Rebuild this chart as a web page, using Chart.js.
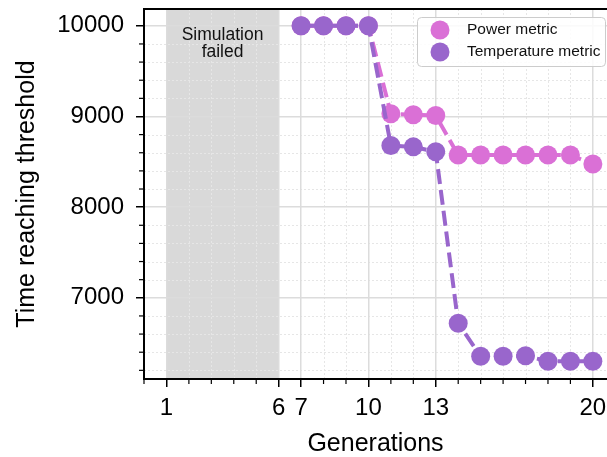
<!DOCTYPE html>
<html>
<head>
<meta charset="utf-8">
<script src="https://cdn.jsdelivr.net/npm/chart.js@4.4.1/dist/chart.umd.min.js"></script>
<style>
  html, body { margin: 0; padding: 0; background: #fff; }
  #wrap { width: 607px; height: 457px; }
</style>
</head>
<body>
<div id="wrap"><canvas id="genChart" width="607" height="457"></canvas></div>
<script>
// Datos
const generations = [7, 8, 9, 10, 11, 12, 13, 14, 15, 16, 17, 18, 19, 20];
const powerValues = [10000, 10000, 10000, 10000, 9030, 9020, 9010, 8575, 8575, 8575, 8575, 8575, 8575, 8475];
const tempValues = [10000, 10000, 10000, 10000, 8680, 8665, 8610, 6720, 6355, 6355, 6360, 6300, 6300, 6300];
const xTickValues = [1, 6, 7, 10, 13, 20];
const yTickValues = [7000, 8000, 9000, 10000];
const failedRange = [1, 6];
const seriesLabels = ['Power metric', 'Temperature metric'];

const FONT = '"Liberation Sans", Arial, sans-serif';
const powerColor = '#da70d6';
const tempColor = '#9966cc';

// Banda gris, rejilla menor y marcas menores
const backgroundPlugin = {
    id: 'background',
    beforeDraw(chart) {
        const {ctx, chartArea: a, scales: {x, y}} = chart;
        ctx.save();
        // banda "Simulation failed"
        const x1 = x.getPixelForValue(failedRange[0]);
        const x2 = x.getPixelForValue(failedRange[1]);
        ctx.fillStyle = '#d9d9d9';
        ctx.fillRect(x1, a.top, x2 - x1, a.bottom - a.top);

        // rejilla menor punteada
        ctx.strokeStyle = '#e6e6e6';
        ctx.lineWidth = 1;
        ctx.setLineDash([2, 2]);
        for (let v = 0; v <= 20; v++) {
            if (xTickValues.includes(v)) continue;
            const px = Math.round(x.getPixelForValue(v)) + 0.5;
            ctx.beginPath(); ctx.moveTo(px, a.top); ctx.lineTo(px, a.bottom); ctx.stroke();
        }
        for (let v = 6200; v <= 10000; v += 200) {
            if (yTickValues.includes(v)) continue;
            const py = Math.round(y.getPixelForValue(v)) + 0.5;
            ctx.beginPath(); ctx.moveTo(a.left, py); ctx.lineTo(a.right, py); ctx.stroke();
        }
        ctx.setLineDash([]);

        // marcas menores
        ctx.strokeStyle = '#000';
        ctx.lineWidth = 1.2;
        for (let v = 0; v <= 20; v++) {
            if (xTickValues.includes(v)) continue;
            const px = x.getPixelForValue(v);
            ctx.beginPath(); ctx.moveTo(px, a.bottom); ctx.lineTo(px, a.bottom + 5); ctx.stroke();
        }
        for (let v = 6200; v <= 10000; v += 200) {
            if (yTickValues.includes(v)) continue;
            const py = y.getPixelForValue(v);
            ctx.beginPath(); ctx.moveTo(a.left, py); ctx.lineTo(a.left - 5, py); ctx.stroke();
        }
        ctx.restore();
    },
    beforeDatasetsDraw(chart) {
        const {ctx, scales: {x}} = chart;
        ctx.save();
        // texto de la banda
        ctx.fillStyle = '#111';
        ctx.font = '17.5px ' + FONT;
        ctx.textAlign = 'center';
        ctx.textBaseline = 'middle';
        const cx = (x.getPixelForValue(failedRange[0]) + x.getPixelForValue(failedRange[1])) / 2;
        ctx.fillText('Simulation', cx, 35);
        ctx.fillText('failed', cx, 52);
        ctx.restore();
    },
    afterDraw(chart) {
        const {ctx, chartArea: a} = chart;
        ctx.save();
        // borde superior
        ctx.strokeStyle = '#000';
        ctx.lineWidth = 2;
        ctx.beginPath(); ctx.moveTo(a.left - 1, a.top); ctx.lineTo(a.right, a.top); ctx.stroke();

        // leyenda
        const bx = 417, by = 17, bw = 188, bh = 49;
        ctx.fillStyle = 'rgba(255,255,255,0.85)';
        ctx.strokeStyle = '#cccccc';
        ctx.lineWidth = 1;
        ctx.beginPath();
        ctx.roundRect(bx + 0.5, by + 0.5, bw, bh, 4);
        ctx.fill(); ctx.stroke();
        const colors = [powerColor, tempColor];
        ctx.font = '15.5px ' + FONT;
        ctx.textAlign = 'left';
        ctx.textBaseline = 'middle';
        seriesLabels.forEach((lbl, i) => {
            const cy = 30 + i * 22;
            ctx.fillStyle = colors[i];
            ctx.beginPath(); ctx.arc(440, cy, 9.5, 0, Math.PI * 2); ctx.fill();
            ctx.fillStyle = '#111';
            ctx.fillText(lbl, 467, cy);
        });
        ctx.restore();
    }
};

const toPoints = vals => generations.map((g, i) => ({x: g, y: vals[i]}));

new Chart(document.getElementById('genChart'), {
    type: 'line',
    data: {
        datasets: [
            {
                label: seriesLabels[0],
                data: toPoints(powerValues),
                borderColor: powerColor,
                backgroundColor: powerColor,
                borderWidth: 4,
                borderDash: [15, 6],
                pointRadius: 9.5,
                pointBorderWidth: 0,
                pointBackgroundColor: powerColor,
                tension: 0,
                clip: false,
                order: 1
            },
            {
                label: seriesLabels[1],
                data: toPoints(tempValues),
                borderColor: tempColor,
                backgroundColor: tempColor,
                borderWidth: 4,
                borderDash: [15, 6],
                pointRadius: 9.5,
                pointBorderWidth: 0,
                pointBackgroundColor: tempColor,
                tension: 0,
                clip: false,
                order: 0
            }
        ]
    },
    options: {
        responsive: false,
        animation: false,
        devicePixelRatio: 1,
        layout: { autoPadding: false, padding: { top: 9, right: 0, left: 0, bottom: 0 } },
        plugins: {
            legend: { display: false },
            tooltip: { enabled: false }
        },
        scales: {
            x: {
                type: 'linear',
                min: 0,
                max: 20.63,
                afterBuildTicks: s => { s.ticks = xTickValues.map(v => ({value: v})); },
                afterFit: s => { s.height = 78; s.paddingLeft = 0; s.paddingRight = 0; },
                grid: {
                    color: '#dcdcdc',
                    lineWidth: 1.5,
                    tickColor: '#000',
                    tickLength: 8,
                    tickWidth: 1.5
                },
                border: { color: '#000', width: 2 },
                ticks: {
                    color: '#000',
                    font: { family: FONT, size: 24 },
                    padding: 7,
                    maxRotation: 0,
                    autoSkip: false,
                    callback: v => String(v)
                },
                title: {
                    display: true,
                    text: 'Generations',
                    color: '#000',
                    font: { family: FONT, size: 25, lineHeight: 1.05 },
                    padding: { top: 0, bottom: 0 }
                }
            },
            y: {
                min: 6104.5,
                max: 10185.5,
                afterBuildTicks: s => { s.ticks = yTickValues.map(v => ({value: v})); },
                afterFit: s => { s.width = 144; s.paddingTop = 0; s.paddingBottom = 0; },
                grid: {
                    color: '#dcdcdc',
                    lineWidth: 1.5,
                    tickColor: '#000',
                    tickLength: 8,
                    tickWidth: 1.5
                },
                border: { color: '#000', width: 2 },
                ticks: {
                    color: '#000',
                    font: { family: FONT, size: 24 },
                    padding: 12,
                    autoSkip: false,
                    callback: v => String(v)
                },
                title: {
                    display: true,
                    text: 'Time reaching threshold',
                    color: '#000',
                    font: { family: FONT, size: 25, lineHeight: 1.2 },
                    padding: { top: 12, bottom: 0 }
                }
            }
        }
    },
    plugins: [backgroundPlugin]
});
</script>
</body>
</html>
